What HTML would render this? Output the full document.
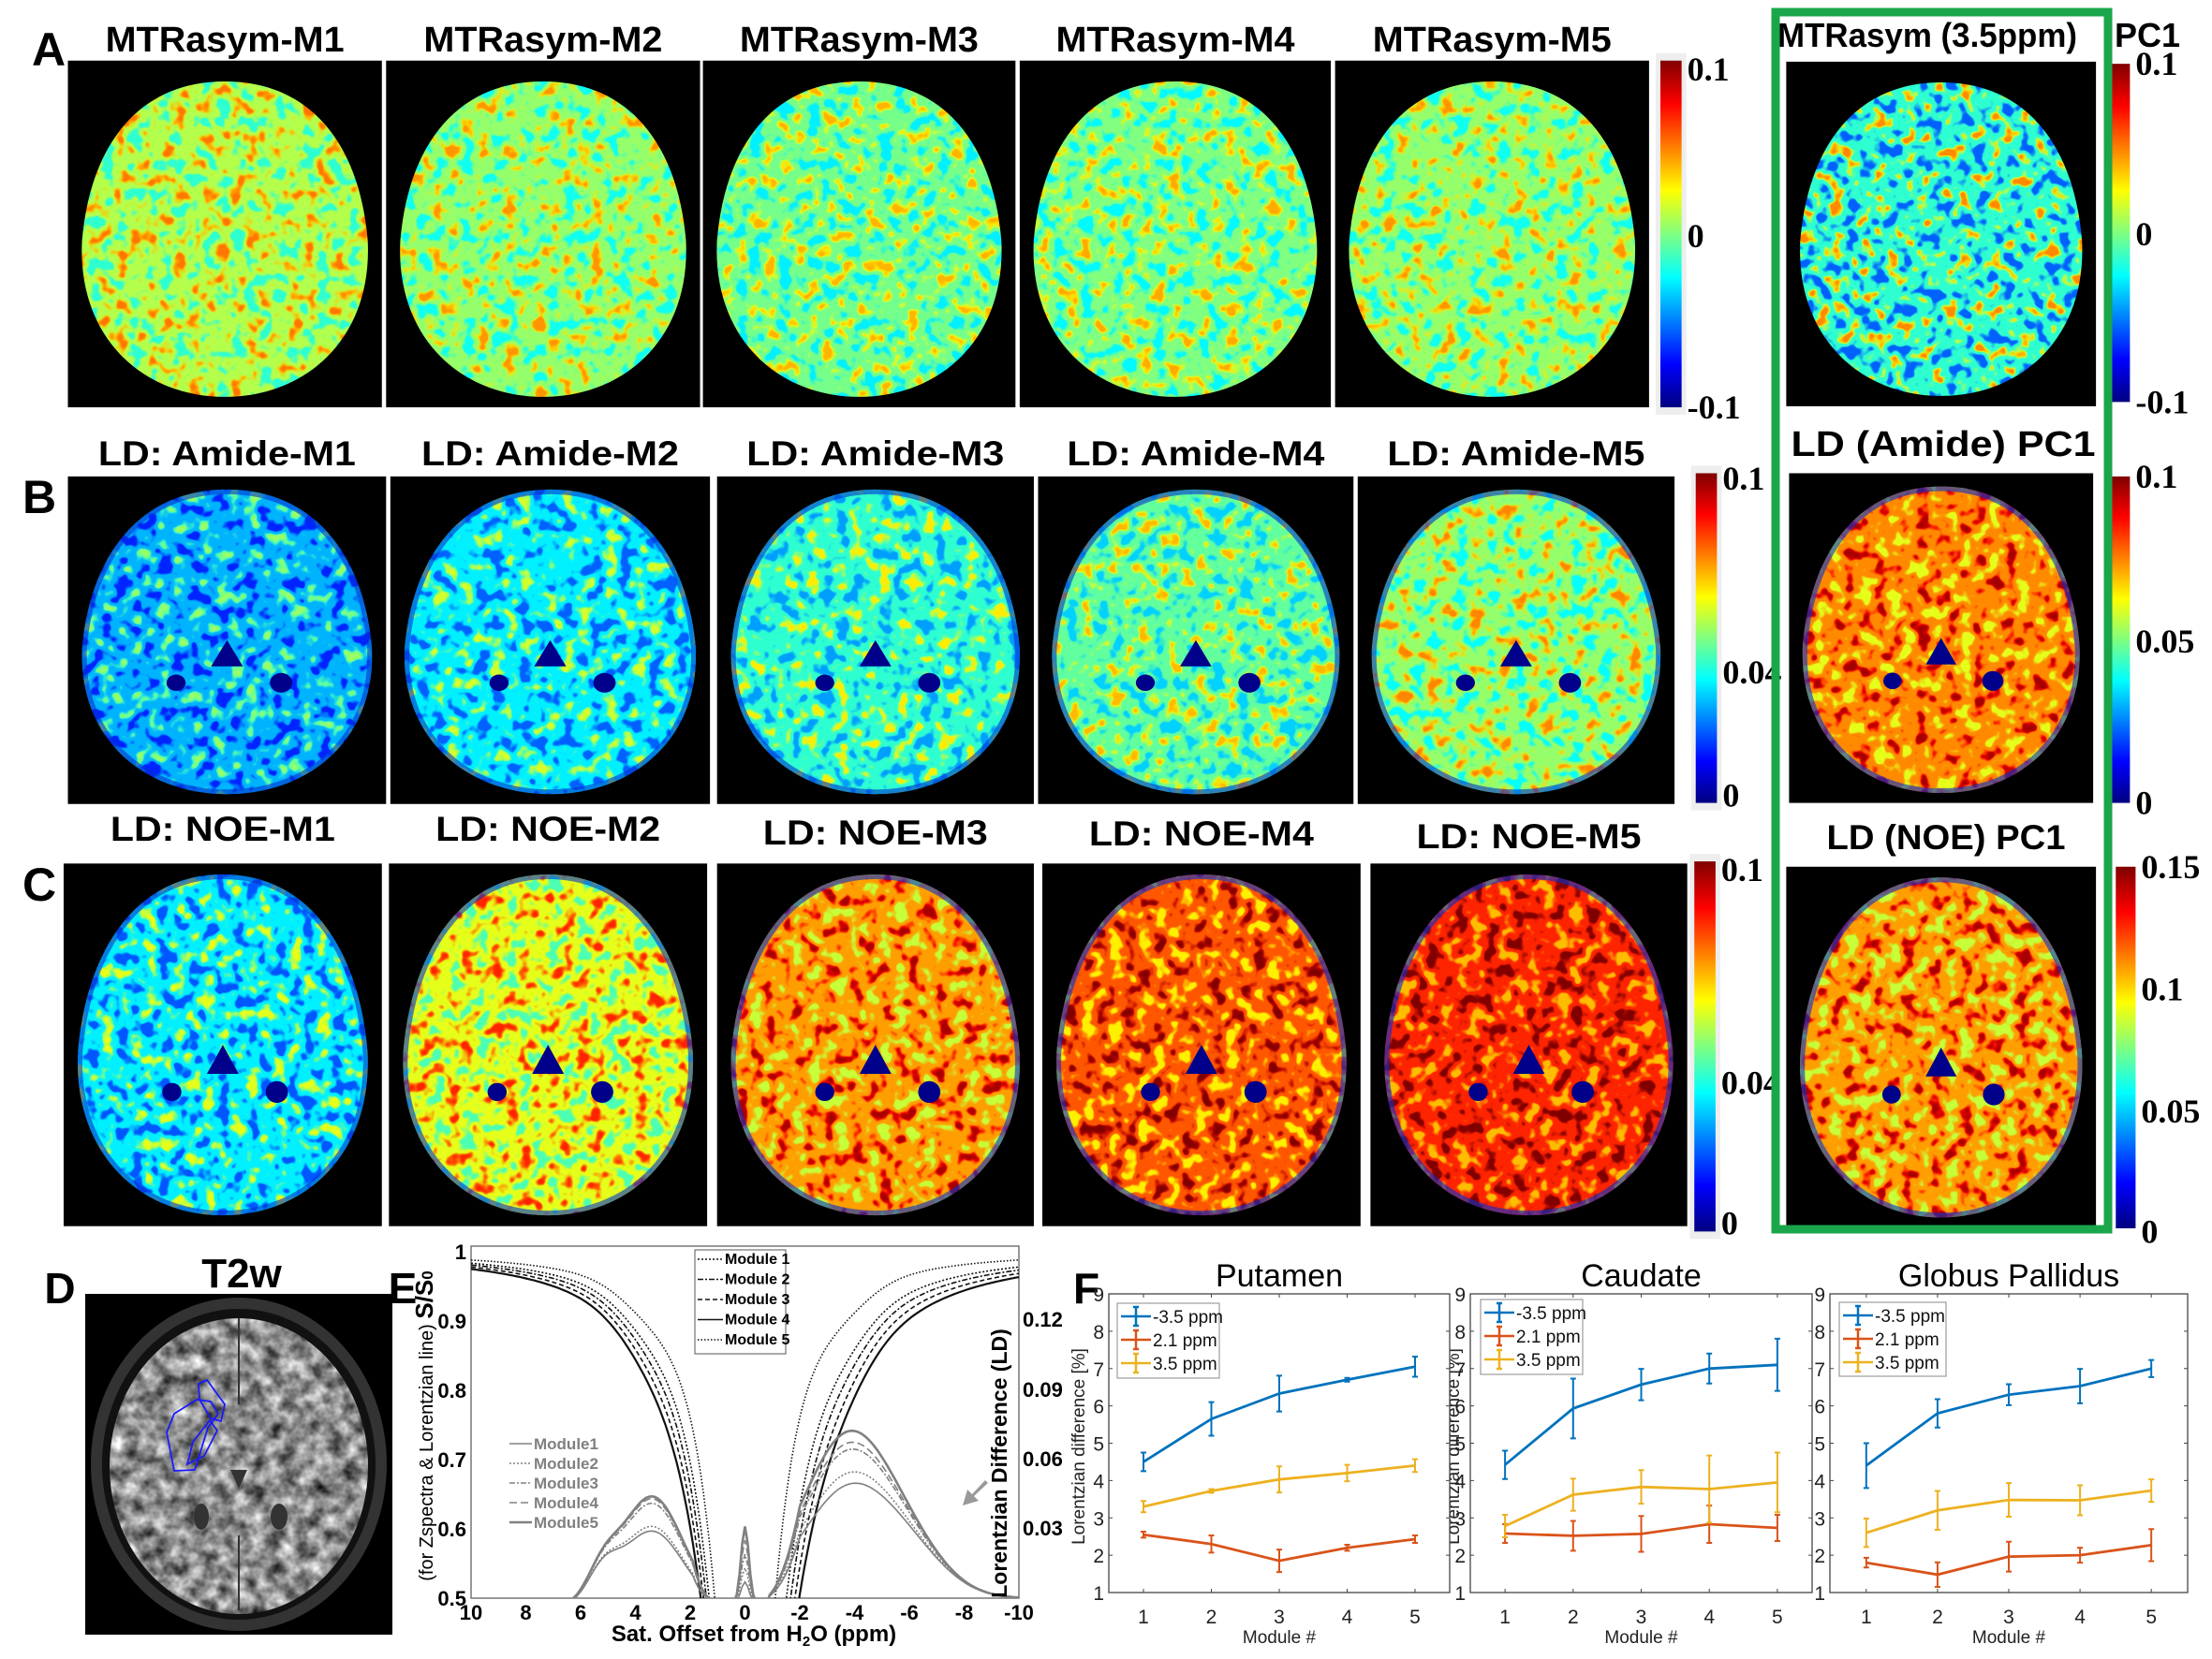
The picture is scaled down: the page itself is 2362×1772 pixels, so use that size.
<!DOCTYPE html>
<html><head><meta charset="utf-8"><style>
html,body{margin:0;padding:0;background:#fff;width:2362px;height:1772px;overflow:hidden}
svg{display:block}
</style></head><body>
<div id="c"></div>
<script>
const X=x=>x*1.5102, Y=y=>y*1.1359;
const D=[],S=[];let fid=0;
function jet(v){v=Math.max(0,Math.min(1,v));
 const r=Math.max(0,Math.min(1,Math.min(4*v-1.5,-4*v+4.5)));
 const g=Math.max(0,Math.min(1,Math.min(4*v-0.5,-4*v+3.5)));
 const b=Math.max(0,Math.min(1,Math.min(4*v+0.5,-4*v+2.5)));
 return [r,g,b];}
const f3=a=>a.map(x=>x.toFixed(3));
function brain(x1,y1,x2,y2,mean,sp,seed,vent,top){
 const x=X(x1),y=Y(y1),w=X(x2)-x,h=Y(y2)-y,id=fid++;
 const base=jet(mean);
 const layers=[[mean-sp*1.6,-1,0.37],[mean-sp,-1,0.44],[mean+sp,1,0.56],[mean+sp*1.6,1,0.63]];
 let prim=`<feTurbulence type="fractalNoise" baseFrequency="0.065" numOctaves="2" seed="${seed}" result="t"/><feFlood flood-color="rgb(${base.map(c=>Math.round(c*255)).join(',')})" result="base"/>`;
 let merge='<feMergeNode in="base"/>';
 layers.forEach(([v,s,t],i)=>{const c=f3(jet(v)),k=9;
  const ar=s>0?`${k} 0 0 0 ${(-k*t).toFixed(3)}`:`${-k} 0 0 0 ${(k*t).toFixed(3)}`;
  prim+=`<feColorMatrix in="t" type="matrix" values="0 0 0 0 ${c[0]} 0 0 0 0 ${c[1]} 0 0 0 0 ${c[2]} ${ar}" result="l${i}"/>`;
  merge+=`<feMergeNode in="l${i}"/>`;});
 D.push(`<filter id="f${id}" filterUnits="userSpaceOnUse" x="${x}" y="${y}" width="${w}" height="${h}" color-interpolation-filters="sRGB">${prim}<feMerge>${merge}</feMerge></filter>`);
 const P=(u,v)=>`${(x+u*w).toFixed(1)},${(y+v*h).toFixed(1)}`;
 const t=top;
 const d=`M${P(.5,t)} C${P(.78,t)} ${P(.93,.25)} ${P(.955,.52)} C${P(.97,.8)} ${P(.76,.97)} ${P(.5,.97)} C${P(.24,.97)} ${P(.03,.8)} ${P(.045,.52)} C${P(.07,.25)} ${P(.22,t)} ${P(.5,t)}Z`;
 D.push(`<clipPath id="c${id}"><path d="${d}"/></clipPath>`);
 S.push(`<rect x="${x}" y="${y}" width="${w}" height="${h}" fill="#000"/>`);
 S.push(`<g clip-path="url(#c${id})"><rect x="${x}" y="${y}" width="${w}" height="${h}" fill="#fff" filter="url(#f${id})"/>`);
 if(vent){
  S.push(`<path d="M${P(.5,.5)} L${P(.45,.58)} L${P(.55,.58)}Z" fill="#00008a"/><ellipse cx="${x+.34*w}" cy="${y+.63*h}" rx="${.03*w}" ry="${.025*h}" fill="#00008a"/><ellipse cx="${x+.67*w}" cy="${y+.63*h}" rx="${.035*w}" ry="${.03*h}" fill="#00008a"/>`);
  S.push(`<path d="${d}" fill="none" stroke="#0030d0" stroke-width="10" opacity=".6"/>`);
 }
 S.push(`</g>`);
}
function txt(x,y,s,size,opt={}){
 const a=opt.anchor||'middle',wt=opt.bold===false?'normal':'bold',fam=opt.fam||'"Liberation Sans", sans-serif';
 const tl=opt.tl?` textLength="${opt.tl}" lengthAdjust="spacingAndGlyphs"`:'';
 const tr=opt.rot?` transform="rotate(${opt.rot} ${x} ${y})"`:'';
 S.push(`<text x="${x}" y="${y}" font-family='${fam}' font-size="${size}" font-weight="${wt}" text-anchor="${a}" fill="${opt.fill||'#000'}"${tl}${tr}>${s}</text>`);
}
D.push(`<linearGradient id="jet" x1="0" y1="0" x2="0" y2="1"><stop offset="0" stop-color="#800000"/><stop offset=".125" stop-color="#f00"/><stop offset=".375" stop-color="#ff0"/><stop offset=".625" stop-color="#0ff"/><stop offset=".875" stop-color="#00f"/><stop offset="1" stop-color="#000080"/></linearGradient>`);
function cbar(x1,y1,x2,y2,labels,bg){
 const x=X(x1),y=Y(y1),w=X(x2)-x,h=Y(y2)-y;
 if(bg)S.push(`<rect x="${x-5}" y="${y-8}" width="${w+10}" height="${h+16}" fill="#eee"/>`);
 S.push(`<rect x="${x}" y="${y}" width="${w}" height="${h}" fill="url(#jet)"/>`);
 labels.forEach(([s,yy])=>txt(X(x2)+6,Y(yy)+12,s,36,{anchor:'start',fam:'"Liberation Serif", serif'}));
}
txt(52,70,'A',50);txt(42,548,'B',50);txt(42,962,'C',50);txt(64,1392,'D',46);txt(430,1392,'E',46);txt(1160,1392,'F',46);
const A=[[48,270],[273,495],[497,718],[721,941],[944,1166]];
const At=['MTRasym-M1','MTRasym-M2','MTRasym-M3','MTRasym-M4','MTRasym-M5'];
const Am=[.55,.52,.49,.5,.52];
A.forEach((a,i)=>{brain(a[0],57,a[1],383,Am[i],0.13,i+3,false,.06);txt((X(a[0])+X(a[1]))/2,55,At[i],38,{tl:255});});
cbar(1174,57,1189,383,[['0.1',65],['0',222],['-0.1',383]],true);
brain(1263,58,1482,382,.42,0.2,21,false,.06);
txt(2058,50,'MTRasym (3.5ppm)',36,{tl:320});txt(2293,50,'PC1',36);
cbar(1491,60,1506,378,[['0.1',60],['0',220],['-0.1',378]]);
const B=[[48,273],[276,502],[507,731],[734,957],[960,1184]];
const Bm=[.3,.36,.42,.47,.52];
B.forEach((a,i)=>{brain(a[0],448,a[1],756,Bm[i],0.14,i+11,true,.04);txt((X(a[0])+X(a[1]))/2,497,'LD: Amide-M'+(i+1),37,{tl:275});});
cbar(1199,445,1214,755,[['0.1',450],['0.04',632],['0',748]],true);
brain(1265,445,1480,755,.74,0.14,31,true,.04);
txt(2075,487,'LD (Amide) PC1',38,{tl:325});
cbar(1491,448,1506,755,[['0.1',448],['0.05',603],['0',755]]);
const C=[[45,270],[275,500],[507,731],[737,962],[969,1193]];
const Cm=[.36,.6,.72,.79,.84];
const Cy=[898,898,902,903,906];
C.forEach((a,i)=>{brain(a[0],812,a[1],1153,Cm[i],0.15,i+41,true,.03);txt((X(a[0])+X(a[1]))/2,Cy[i],'LD: NOE-M'+(i+1),37,{tl:240});});
cbar(1198,810,1213,1158,[['0.1',818],['0.04',1018],['0',1150]],true);
brain(1263,815,1482,1155,.72,0.15,51,true,.03);
txt(2078,907,'LD (NOE) PC1',37,{tl:255});
cbar(1496,815,1510,1155,[['0.15',815],['0.1',930],['0.05',1045],['0',1158]]);
S.push(`<rect x="1896" y="13" width="355" height="1300" fill="none" stroke="#1aa64a" stroke-width="9"/>`);
// D
D.push(`<filter id="gray" filterUnits="userSpaceOnUse" x="91" y="1382" width="328" height="364" color-interpolation-filters="sRGB"><feTurbulence type="fractalNoise" baseFrequency="0.06" numOctaves="3" seed="7"/><feColorMatrix type="matrix" values="1.2 0 0 0 -0.05 1.2 0 0 0 -0.05 1.2 0 0 0 -0.05 0 0 0 0 1"/></filter>`);
S.push(`<rect x="91" y="1382" width="328" height="364" fill="#000"/>`);
S.push(`<ellipse cx="255" cy="1564" rx="158" ry="178" fill="#333"/><ellipse cx="255" cy="1564" rx="146" ry="166" fill="#111"/>`);
D.push(`<clipPath id="dc"><ellipse cx="255" cy="1566" rx="138" ry="158"/></clipPath>`);
S.push(`<g clip-path="url(#dc)"><rect x="91" y="1382" width="328" height="364" fill="#fff" filter="url(#gray)"/><path d="M246 1570 L255 1590 L264 1570Z" fill="#333"/><ellipse cx="215" cy="1620" rx="8" ry="14" fill="#333"/><ellipse cx="298" cy="1620" rx="9" ry="14" fill="#333"/><line x1="255" y1="1400" x2="255" y2="1500" stroke="#333" stroke-width="2"/><line x1="255" y1="1640" x2="255" y2="1720" stroke="#333" stroke-width="2"/></g>`);
S.push(`<path d="M210 1495 L225 1497 L233 1510 L222 1525 L208 1570 L186 1571 L178 1530 L186 1510Z M212 1478 L221 1474 L240 1500 L236 1518 L225 1515 L213 1495Z M224 1517 L232 1528 L218 1555 L200 1564 L206 1540Z" fill="none" stroke="#1a1aff" stroke-width="1.8"/>`);
txt(258,1375,'T2w',44);
// E
const ex=o=>503+(10-o)/20*585, ey=z=>1337+(1-z)*740, ely=v=>1707-v*2467;
S.push(`<rect x="503" y="1331" width="585" height="376" fill="#fff" stroke="#777" stroke-width="1.5"/>`);
D.push(`<clipPath id="ec"><rect x="503" y="1331" width="585" height="376"/></clipPath>`);
let eg='<g clip-path="url(#ec)">';
const dashes=['2,2','6,2,2,2','5,3','',"1.5,2"];
const wL=[1.3,1.4,1.5,1.6,1.1],wR=[1.5,1.65,1.8,1.95,1.1];
for(let m=0;m<5;m++){
 let p='';for(let o=10;o>=-10;o-=0.1){const w=o>0?wL[m]:wR[m];const z=1-w*w/(w*w+o*o)-0.02*Math.exp(-Math.pow((Math.abs(o)-3.5)/1.5,2));p+=(p?'L':'M')+ex(o).toFixed(1)+','+ey(Math.max(0.45,z)).toFixed(1);}
 eg+=`<path d="${p}" fill="none" stroke="#111" stroke-width="${m==3?2.2:1.6}" stroke-dasharray="${dashes[m]}"/>`;
}
const Ap=[.045,.05,.06,.063,.068],Bp=[.033,.035,.045,.047,.048];
for(let m=0;m<5;m++){
 let p='';for(let o=10;o>=-10;o-=0.1){let v;
  if(o<-0.8){v=Ap[m]*Math.exp(-Math.pow((o+3.7)/2.3,2))+0.015*Math.exp(-Math.pow((o+6)/2,2)); v*=Math.min(1,(-o-0.8)/1.2);}
  else if(o>1.3){v=Bp[m]*Math.exp(-Math.pow((o-3.4)/1.6,2))+0.012*Math.exp(-Math.pow((o-5.2)/0.8,2))-0.004; v*=Math.min(1,(o-1.3)/0.6);}
  else v=0.03*Math.exp(-Math.pow(o/0.2,2))*(m/5+0.3)-0.002;
  p+=(p?'L':'M')+ex(o).toFixed(1)+','+ely(v).toFixed(1);}
 eg+=`<path d="${p}" fill="none" stroke="#808080" stroke-width="${m==4?2.6:1.6}" stroke-dasharray="${['','2,2','6,2,2,2','8,4',''][m]}"/>`;
}
eg+='</g>';S.push(eg);
[1,.9,.8,.7,.6,.5].forEach(z=>txt(498,ey(z)+8,z==1?'1':z.toFixed(1),22,{anchor:'end'}));
[10,8,6,4,2,0,-2,-4,-6,-8,-10].forEach(o=>txt(ex(o),1730,String(o),22));
[[.12,1417],[.09,1492],[.06,1566],[.03,1640]].forEach(([v,y])=>txt(1092,y,String(v),22,{anchor:'start'}));
txt(805,1753,'Sat. Offset from H<tspan font-size="15" dy="5">2</tspan><tspan dy="-5">O (ppm)</tspan>',24);
txt(462,1523,'(for Zspectra &amp; Lorentzian line) <tspan font-weight="bold" font-size="26">S/S<tspan font-size="17">0</tspan></tspan>',20,{bold:false,rot:-90});
txt(1075,1563,'Lorentzian Difference (LD)',23,{rot:-90});
S.push(`<rect x="742" y="1335" width="97" height="111" fill="#fff" stroke="#555"/>`);
for(let m=0;m<5;m++){const y=1350+m*21.5;S.push(`<line x1="745" y1="${y-5}" x2="772" y2="${y-5}" stroke="#111" stroke-width="1.6" stroke-dasharray="${dashes[m]}"/>`);txt(774,y,'Module '+(m+1),16,{anchor:'start'});}
for(let m=0;m<5;m++){const y=1548+m*21;S.push(`<line x1="544" y1="${y-6}" x2="568" y2="${y-6}" stroke="#808080" stroke-width="${m==4?2.6:1.6}" stroke-dasharray="${['','2,2','6,2,2,2','8,4',''][m]}"/>`);txt(570,y,'Module'+(m+1),17,{anchor:'start',fill:'#808080'});}
S.push(`<path d="M1055 1584 L1040 1598 L1045 1603 L1028 1608 L1033 1591 L1038 1596 L1052 1581Z" fill="#999"/>`);
// F
const cols=['#0072BD','#D95319','#EDB120'];
const F=[
 {x0:1184,x1:1548,t:'Putamen',lg:[1193,1392,1302,1472],d:[[4.5,5.65,6.33,6.7,7.05],[2.55,2.3,1.85,2.2,2.43],[3.3,3.72,4.03,4.2,4.4]],e:[[.25,.45,.48,.05,.27],[.08,.23,.3,.08,.1],[.15,.05,.35,.22,.17]]},
 {x0:1570,x1:1935,t:'Caudate',lg:[1581,1388,1690,1468],d:[[4.42,5.93,6.57,7.0,7.1],[2.58,2.52,2.57,2.83,2.73],[2.78,3.62,3.83,3.77,3.95]],e:[[.38,.8,.42,.4,.7],[.25,.4,.48,.5,.35],[.3,.43,.45,.9,.8]]},
 {x0:1954,x1:2336,t:'Globus Pallidus',lg:[1964,1391,2078,1470],d:[[4.4,5.8,6.3,6.53,7.0],[1.8,1.48,1.96,2.0,2.27],[2.6,3.2,3.48,3.47,3.73]],e:[[.6,.38,.28,.46,.23],[.13,.33,.4,.2,.43],[.38,.52,.45,.4,.3]]}];
txt(1558,1545,'Lorentzian difference [%]',19,{bold:false,rot:-90,fill:'#222'});
F.forEach((f,fi)=>{
 const yt=1382,yb=1701,fy=v=>yb-(v-1)/8*(yb-yt),fx=i=>f.x0+37*(f.x1-f.x0)/364+i*(f.x1-f.x0-74*(f.x1-f.x0)/364)/4;
 S.push(`<rect x="${f.x0}" y="${yt}" width="${f.x1-f.x0}" height="${yb-yt}" fill="#fff" stroke="#444" stroke-width="1.3"/>`);
 if(fi==0)txt(1158,1545,'Lorentzian difference [%]',19,{bold:false,rot:-90,fill:'#222'});
 for(let v=1;v<=9;v++){S.push(`<line x1="${f.x0}" y1="${fy(v)}" x2="${f.x0+4}" y2="${fy(v)}" stroke="#444"/><line x1="${f.x1}" y1="${fy(v)}" x2="${f.x1-4}" y2="${fy(v)}" stroke="#444"/>`);txt(f.x0-5,fy(v)+8,String(v),21,{bold:false,anchor:'end',fill:'#222'});}
 for(let i=0;i<5;i++){S.push(`<line x1="${fx(i)}" y1="${yb}" x2="${fx(i)}" y2="${yb-4}" stroke="#444"/><line x1="${fx(i)}" y1="${yt}" x2="${fx(i)}" y2="${yt+4}" stroke="#444"/>`);txt(fx(i),yb+33,String(i+1),21,{bold:false,fill:'#222'});}
 txt((f.x0+f.x1)/2,1755,'Module #',19,{bold:false,fill:'#222'});
 txt((f.x0+f.x1)/2,1374,f.t,34,{bold:false});
 for(let s=0;s<3;s++){
  let p='';for(let i=0;i<5;i++)p+=(i?'L':'M')+fx(i).toFixed(1)+','+fy(f.d[s][i]).toFixed(1);
  S.push(`<path d="${p}" fill="none" stroke="${cols[s]}" stroke-width="2.8"/>`);
  for(let i=0;i<5;i++){const x=fx(i),a=fy(f.d[s][i]+f.e[s][i]),b=fy(f.d[s][i]-f.e[s][i]);S.push(`<path d="M${x},${a}V${b}M${x-3},${a}h6M${x-3},${b}h6" stroke="${cols[s]}" stroke-width="2"/>`);}
 }
 const [lx0,ly0,lx1,ly1]=f.lg;
 S.push(`<rect x="${lx0}" y="${ly0}" width="${lx1-lx0}" height="${ly1-ly0}" fill="#fff" stroke="#888"/>`);
 ['-3.5 ppm','2.1 ppm','3.5 ppm'].forEach((s,k)=>{const y=ly0+14+k*25;S.push(`<path d="M${lx0+4},${y}h32M${lx0+20},${y-10}v20M${lx0+17},${y-10}h6M${lx0+17},${y+10}h6" stroke="${cols[k]}" stroke-width="2.5"/>`);txt(lx0+38,y+7,s,19,{bold:false,anchor:'start',fill:'#111'});});
});
document.getElementById('c').innerHTML=`<svg xmlns="http://www.w3.org/2000/svg" width="2362" height="1772" viewBox="0 0 2362 1772"><defs>${D.join('')}</defs>${S.join('')}</svg>`;
</script>
</body></html>
